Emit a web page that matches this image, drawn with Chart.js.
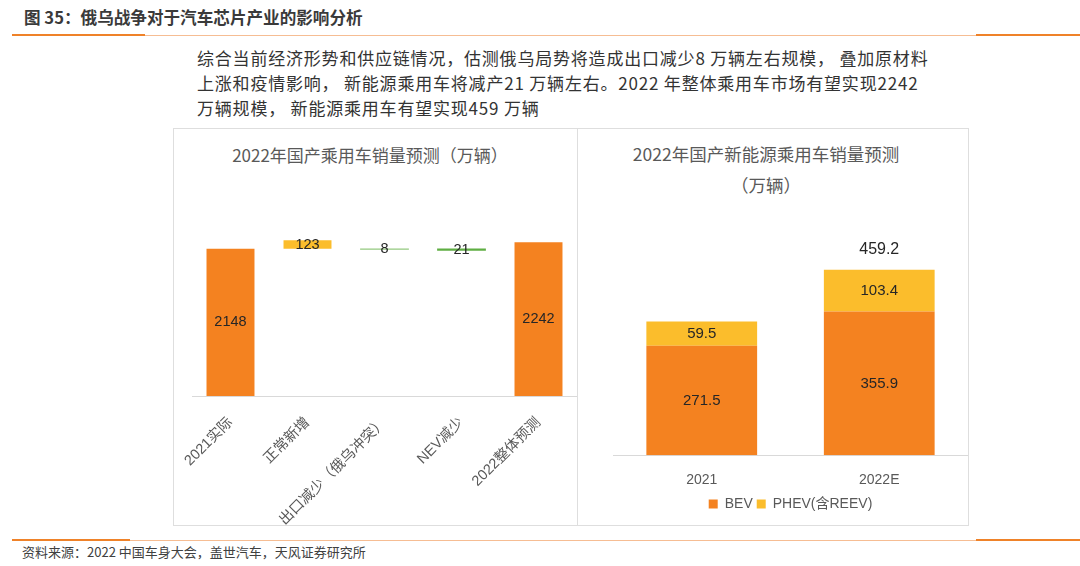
<!DOCTYPE html>
<html>
<head>
<meta charset="utf-8">
<script src="https://cdn.jsdelivr.net/npm/chart.js@4.4.1/dist/chart.umd.min.js"></script>
<style>
  html, body { margin: 0; padding: 0; background: #fff; }
  body { width: 1080px; height: 566px; position: relative; overflow: hidden; font-family: "Noto Sans CJK SC", sans-serif; }
  .hd { position: absolute; left: 24px; top: 5px; font-size: 16.6px; font-weight: bold; color: #3a3a3a; }
  .rule { position: absolute; left: 12px; width: 1068px; height: 1px; background: #f6bd93; }
  .seg { position: absolute; top: -1px; height: 2px; background: #ef8229; }
  .para { position: absolute; left: 197px; top: 45px; font-size: 17px; letter-spacing: 0.8px; line-height: 25px; color: #333; white-space: pre; }
  .box { position: absolute; top: 128px; height: 398px; border: 1px solid #dedede; box-sizing: border-box; }
  .ttl { position: absolute; text-align: center; color: #595959; font-size: 17px; }
  canvas { position: absolute; top: 128px; }
  .src { position: absolute; left: 22px; top: 542px; font-size: 13px; color: #404040; }
</style>
</head>
<body>
<div class="hd">图 35：俄乌战争对于汽车芯片产业的影响分析</div>
<div class="rule" style="top:35px"><div class="seg" style="left:0;width:133px"></div><div class="seg" style="left:964px;width:104px"></div></div>

<div class="para">综合当前经济形势和供应链情况，估测俄乌局势将造成出口减少8 万辆左右规模， 叠加原材料
上涨和疫情影响， 新能源乘用车将减产21 万辆左右。2022 年整体乘用车市场有望实现2242
万辆规模， 新能源乘用车有望实现459 万辆</div>

<div class="box" style="left:173px;width:405px"></div>
<div class="box" style="left:577px;width:392px"></div>

<div class="ttl" style="left:173px;width:394px;top:143px;line-height:24px">2022年国产乘用车销量预测（万辆）</div>
<div class="ttl" style="left:577px;width:378px;top:138px;line-height:31px;font-size:17.5px">2022年国产新能源乘用车销量预测<br>（万辆）</div>

<canvas id="left" width="404" height="398" style="left:173px"></canvas>
<canvas id="right" width="391" height="398" style="left:577px"></canvas>

<div class="rule" style="top:540px"><div class="seg" style="left:0;width:118px"></div><div class="seg" style="left:964px;width:104px"></div></div>
<div class="src">资料来源：2022 中国车身大会，盖世汽车，天风证券研究所</div>

<script>
// Left: waterfall of passenger car sales
const leftCategories = ['2021实际', '正常新增', '出口减少（俄乌冲突）', 'NEV减少', '2022整体预测'];
const leftValues = [2148, 123, 8, 21, 2242];
const leftStarts = [0, 2148, 2140, 2127, 0]; // where each float starts, as drawn

// Right: NEV split
const nevYears = ['2021', '2022E'];
const bevValues = [271.5, 355.9];
const phevValues = [59.5, 103.4];
const nevTotals = ['', '459.2'];

const ORANGE = '#f48220';
const YELLOW = '#fbbd2c';
const FONT = 'Arial, "Liberation Sans", "Noto Sans CJK SC", sans-serif';

// draws a text in the middle of every bar
const barLabels = {
  id: 'barLabels',
  afterDatasetsDraw(chart, args, opts) {
    const ctx = chart.ctx;
    ctx.save();
    ctx.font = opts.size + 'px ' + FONT;
    ctx.fillStyle = '#262626';
    ctx.textAlign = 'center';
    ctx.textBaseline = 'middle';
    chart.data.datasets.forEach((ds, i) => {
      chart.getDatasetMeta(i).data.forEach((bar, j) => {
        const p = bar.getProps(['x', 'y', 'base'], true);
        ctx.fillText(opts.texts[i][j], p.x, (p.y + p.base) / 2);
      });
    });
    if (opts.totals) {
      const last = chart.getDatasetMeta(chart.data.datasets.length - 1);
      ctx.font = (opts.size + 1) + 'px ' + FONT;
      last.data.forEach((bar, j) => {
        if (opts.totals[j]) ctx.fillText(opts.totals[j], bar.x, bar.y - 20);
      });
    }
    ctx.restore();
  }
};

new Chart(document.getElementById('left'), {
  type: 'bar',
  data: {
    labels: leftCategories,
    datasets: [{
      data: leftValues.map((v, i) => [leftStarts[i], leftStarts[i] + v]),
      backgroundColor: [ORANGE, YELLOW, '#93c97f', '#5fae43', ORANGE],
      inflateAmount: ctx => (ctx.dataIndex === 2 || ctx.dataIndex === 3) ? 0.4 : 0,
      categoryPercentage: 1,
      barPercentage: 0.623
    }]
  },
  options: {
    responsive: false,
    animation: false,
    layout: { padding: { left: 19, top: 72, right: 0, bottom: 0 } },
    plugins: {
      legend: { display: false },
      tooltip: { enabled: false },
      barLabels: { size: 14.5, texts: [leftValues.map(String)] }
    },
    scales: {
      x: {
        grid: { display: false },
        border: { display: true, color: '#d9d9d9', width: 1 },
        ticks: { color: '#595959', font: { size: 14.5, family: FONT }, minRotation: 45, maxRotation: 45, autoSkip: false, padding: 10 },
        afterFit(s) { s.height = 130; s.paddingLeft = 0; s.paddingRight = 0; }
      },
      y: { display: false, min: 0, max: 2860 }
    }
  },
  plugins: [barLabels]
});

new Chart(document.getElementById('right'), {
  type: 'bar',
  data: {
    labels: nevYears,
    datasets: [
      { label: 'BEV', data: bevValues, backgroundColor: ORANGE, categoryPercentage: 1, barPercentage: 0.624 },
      { label: 'PHEV(含REEV)', data: phevValues, backgroundColor: YELLOW, categoryPercentage: 1, barPercentage: 0.624 }
    ]
  },
  options: {
    responsive: false,
    animation: false,
    layout: { padding: { left: 36, top: 102, right: 0, bottom: 5 } },
    plugins: {
      legend: {
        position: 'bottom',
        labels: { boxWidth: 9, boxHeight: 9, color: '#595959', font: { size: 14, family: FONT }, padding: 4 }
      },
      tooltip: { enabled: false },
      barLabels: { size: 15, texts: [bevValues.map(v => v.toFixed(1)), phevValues.map(v => v.toFixed(1))], totals: nevTotals }
    },
    scales: {
      x: {
        stacked: true,
        grid: { display: false },
        border: { display: true, color: '#d9d9d9', width: 1 },
        ticks: { color: '#595959', font: { size: 14, family: FONT }, padding: 9 },
        afterFit(s) { s.height -= 5; }
      },
      y: { stacked: true, display: false, min: 0, max: 558 }
    }
  },
  plugins: [barLabels]
});
</script>
</body>
</html>
